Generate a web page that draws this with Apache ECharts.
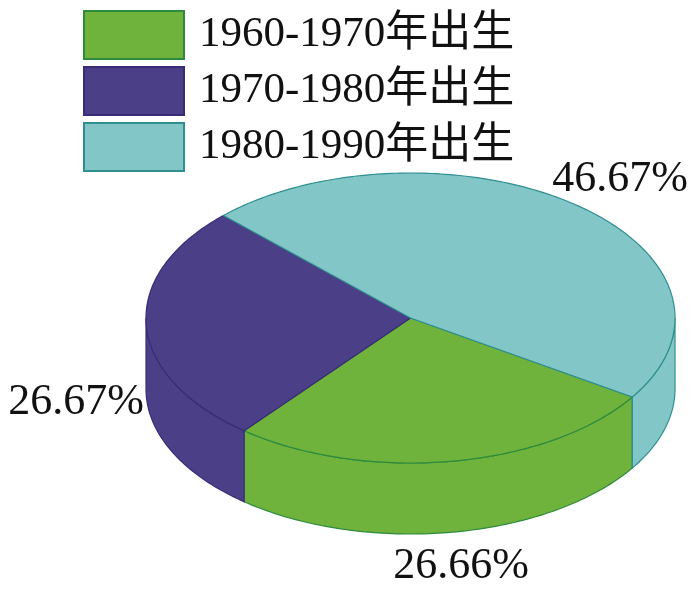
<!DOCTYPE html>
<html><head><meta charset="utf-8">
<style>html,body{margin:0;padding:0;background:#fff}#c{width:700px;height:596px}</style>
<script src="https://cdn.jsdelivr.net/npm/echarts@6/dist/echarts.min.js"></script>
</head><body><div id="c"></div>
<script>
const categories = ['1960-1970年出生', '1970-1980年出生', '1980-1990年出生'];
const shares = [26.66, 26.67, 46.67];
const shareLabels = ['26.66%', '26.67%', '46.67%'];

const fills = ['#70B33C', '#4B4087', '#82C6C8'];
const strokes = ['#2E8B3E', '#3A2A78', '#2F8F90'];
const CX = 410.5, CY = 318, RX = 264.5, RY = 145, DEPTH = 71, START_DEG = -33;
const labelCentres = [[461, 566], [76, 402], [620, 179]];
const FONT = '"Liberation Serif","Noto Sans CJK SC",serif';

const total = shares.reduce((a, b) => a + b, 0);
const pt = (deg, dy) => {
  const t = deg * Math.PI / 180;
  return [CX + RX * Math.cos(t), CY - RY * Math.sin(t) + (dy || 0)];
};
const arc = (from, to, dy) => {
  const out = [], n = Math.max(2, Math.ceil(Math.abs(to - from)));
  for (let i = 0; i <= n; i++) out.push(pt(from + (to - from) * i / n, dy));
  return out;
};
// the slices run clockwise from START_DEG, in legend order
function sliceAngles(idx) {
  const before = shares.slice(0, idx).reduce((a, b) => a + b, 0);
  const hi = START_DEG - before / total * 360;
  return [hi, hi - shares[idx] / total * 360];
}
function renderSlice(params, api) {
  const idx = params.seriesIndex;
  const [a0, a1] = sliceAngles(idx);
  const style = { fill: fills[idx], stroke: strokes[idx], lineWidth: 1.2 };
  const children = [];
  // visible wall: the part of the rim in the lower half of the ellipse (sin < 0)
  [0, -360].forEach(function (turn) {
    const lo = Math.max(a1, turn - 180), hi = Math.min(a0, turn);
    if (hi > lo) {
      const wall = arc(hi, lo, 0).concat(arc(lo, hi, DEPTH));
      children.push({ type: 'polygon', shape: { points: wall }, style });
    }
  });
  children.push({
    type: 'polygon',
    shape: { points: [[CX, CY]].concat(arc(a0, a1, 0)) },
    style
  });
  const lc = labelCentres[idx];
  children.push({
    type: 'text',
    style: {
      text: shareLabels[idx], x: lc[0], y: lc[1], align: 'center', verticalAlign: 'middle',
      font: '44px ' + FONT, fill: '#111'
    }
  });
  return { type: 'group', children };
}
const chart = echarts.init(document.getElementById('c'), null, { renderer: 'canvas' });
chart.setOption({
  animation: false,
  backgroundColor: '#fff',
  legend: {
    left: 78, top: 5, orient: 'vertical',
    itemWidth: 100, itemHeight: 48, itemGap: 6,
    icon: 'rect',
    selectedMode: false,
    data: categories,
    textStyle: { fontFamily: FONT, fontSize: 43, color: '#111', padding: [4, 0, 0, 10] }
  },
  series: categories.map((name, i) => ({
    type: 'custom',
    name,
    coordinateSystem: 'none',
    renderItem: renderSlice,
    itemStyle: { color: fills[i], borderColor: strokes[i], borderWidth: 2 },
    data: [[shares[i]]]
  }))
});
</script></body></html>
